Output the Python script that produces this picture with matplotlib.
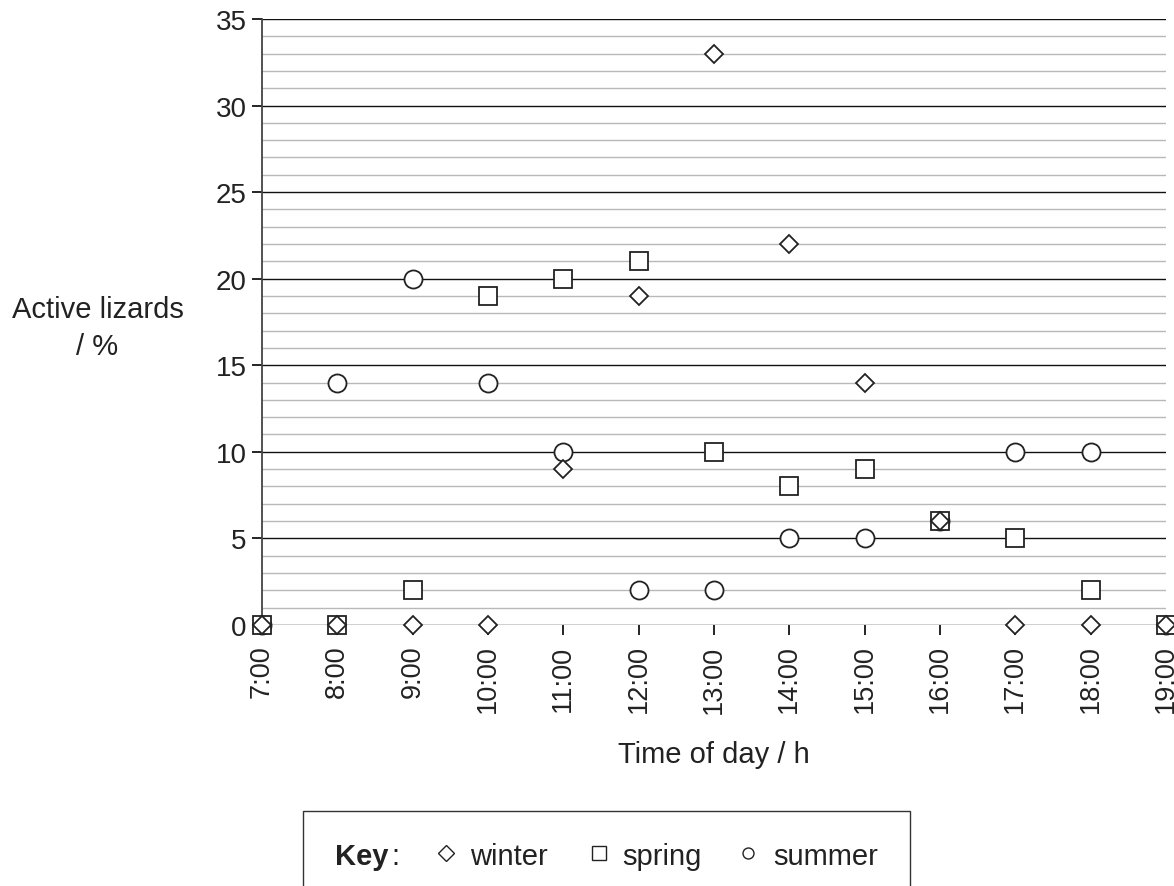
import numpy as np
import matplotlib
matplotlib.use('Agg')
import matplotlib.pyplot as plt
from matplotlib.patches import Rectangle
from matplotlib.lines import Line2D

plt.rcParams['font.family'] = ['Liberation Sans', 'DejaVu Sans']
plt.rcParams['text.color'] = '#222222'
plt.rcParams['xtick.labelcolor'] = '#222222'
plt.rcParams['ytick.labelcolor'] = '#222222'

# Data
hours = [7, 8, 9, 10, 11, 12, 13, 14, 15, 16, 17, 18, 19]
hour_labels = ['7:00', '8:00', '9:00', '10:00', '11:00', '12:00', '13:00',
               '14:00', '15:00', '16:00', '17:00', '18:00', '19:00']
winter = [0, 0, 0, 0, 9, 19, 33, 22, 14, 6, 0, 0, 0]
spring = [0, 0, 2, 19, 20, 21, 10, 8, 9, 6, 5, 2, 0]
summer = [0, 14, 20, 14, 10, 2, 2, 5, 5, 6, 10, 10, 0]

fig = plt.figure(figsize=(11.74, 8.87), dpi=100)
ax = fig.add_axes([0.2232, 0.2943, 0.77, 0.6832])

# grid lines: minor grey every 1, major black every 5
for y in range(0, 36):
    if y % 5 == 0:
        ax.axhline(y, color='#111111', lw=1.0, zorder=1)
    else:
        ax.axhline(y, color='#b8b8b8', lw=1.0, zorder=1)

ax.plot(hours, summer, 'o', ms=13, mfc='white', mec='#222222', mew=1.3,
        clip_on=False, zorder=3)
ax.plot(hours, spring, 's', ms=13, mfc='white', mec='#222222', mew=1.3,
        clip_on=False, zorder=4)
ax.plot(hours, winter, 'D', ms=9, mfc='white', mec='#222222', mew=1.3,
        clip_on=False, zorder=5)

ax.set_xlim(7, 19)
ax.set_ylim(0, 35)
ax.set_xticks(hours)
ax.set_xticklabels(hour_labels, rotation=90, fontsize=19.5)
ax.set_yticks(range(0, 36, 5))
ax.tick_params(axis='y', labelsize=20, length=7, width=1.2, direction='out', pad=4)
ax.tick_params(axis='x', length=7, width=1.2, direction='out', pad=7)

for s in ['top', 'right', 'bottom']:
    ax.spines[s].set_visible(False)
ax.spines['left'].set_color('#444444')
ax.spines['left'].set_linewidth(1.3)

ax.set_xlabel('Time of day / h', fontsize=21, labelpad=20, color='#222222')
fig.text(0.083, 1 - 318 / 887, 'Active lizards', fontsize=21, ha='center', va='baseline')
fig.text(0.083, 1 - 355 / 887, '/ %', fontsize=21, ha='center', va='baseline')

# key box at bottom
fig.patches.append(Rectangle((303 / 1174, -0.05), 607 / 1174, 0.05 + 1 - 812 / 887,
                             transform=fig.transFigure, fill=False, ec='#333333', lw=1.0))
ky = 1 - 865 / 887
my = 1 - 853.5 / 887
fig.text(335 / 1174, ky, 'Key', fontsize=21, fontweight='bold', va='baseline')
fig.text(391 / 1174, ky, ':', fontsize=21, va='baseline')
fig.text(470 / 1174, ky, 'winter', fontsize=21, va='baseline')
fig.text(622 / 1174, ky, 'spring', fontsize=21, va='baseline')
fig.text(773 / 1174, ky, 'summer', fontsize=21, va='baseline')
for xm, mk, size in [(446, 'D', 8.0), (598.5, 's', 9.4), (747.5, 'o', 7.9)]:
    fig.add_artist(Line2D([xm / 1174], [my], marker=mk, ms=size, mfc='white',
                          mec='#222222', mew=1.0, transform=fig.transFigure))

plt.savefig('out.png', dpi=100)
